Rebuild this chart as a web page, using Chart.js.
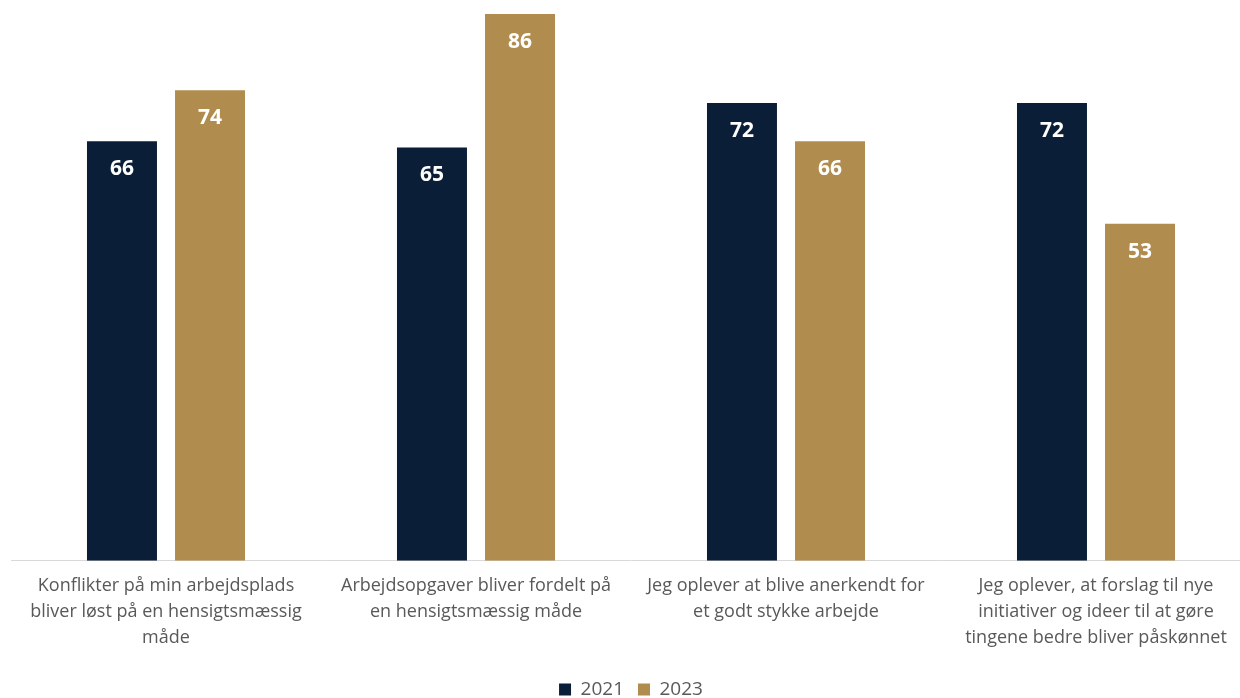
<!DOCTYPE html>
<html>
<head>
<meta charset="utf-8">
<script src="https://cdn.jsdelivr.net/npm/chart.js@4"></script>
<style>
  html, body { margin: 0; padding: 0; background: #ffffff; overflow: hidden; }
  #wrap { width: 1262px; height: 698px; position: relative; }
</style>
</head>
<body>
<div id="wrap"><canvas id="chart"></canvas></div>
<script>
var categories = [
  ["Konflikter på min arbejdsplads", "bliver løst på en hensigtsmæssig", "måde"],
  ["Arbejdsopgaver bliver fordelt på", "en hensigtsmæssig måde"],
  ["Jeg oplever at blive anerkendt for", "et godt stykke arbejde"],
  ["Jeg oplever, at forslag til nye", "initiativer og ideer til at gøre", "tingene bedre bliver påskønnet"]
];
var values2021 = [66, 65, 72, 72];
var values2023 = [74, 86, 66, 53];
var seriesNames = ["2021", "2023"];

var valueLabels = {
  id: "valueLabels",
  afterDatasetsDraw: function (chart) {
    var ctx = chart.ctx;
    ctx.save();
    ctx.fillStyle = "#ffffff";
    ctx.font = "bold 21px 'Open Sans', sans-serif";
    ctx.textAlign = "center";
    ctx.textBaseline = "middle";
    chart.data.datasets.forEach(function (ds, i) {
      chart.getDatasetMeta(i).data.forEach(function (bar, j) {
        ctx.fillText(ds.data[j], bar.x, bar.y + 28);
      });
    });
    ctx.restore();
  }
};

// pull the legend a bit closer to the bottom edge
var legendShift = {
  id: "legendShift",
  beforeInit: function (chart) {
    var fit = chart.legend.fit;
    chart.legend.fit = function () {
      fit.call(this);
      this.height -= 11;
    };
  }
};

var ctx = document.getElementById("chart").getContext("2d");
var chart = new Chart(ctx, {
  type: "bar",
  data: {
    labels: categories,
    datasets: [
      {
        label: seriesNames[0],
        data: values2021,
        backgroundColor: "#0b1e37",
        categoryPercentage: 0.568,
        barPercentage: 0.795
      },
      {
        label: seriesNames[1],
        data: values2023,
        backgroundColor: "#b08d4e",
        categoryPercentage: 0.568,
        barPercentage: 0.795
      }
    ]
  },
  options: {
    responsive: true,
    maintainAspectRatio: false,
    animation: false,
    layout: { padding: { top: 14, left: 11, right: 11, bottom: 0 } },
    scales: {
      x: {
        grid: { display: false, drawTicks: false },
        border: { display: true, color: "#d9d9d9", width: 1 },
        afterFit: function (scale) {
          scale.height += 3;
        },
        ticks: {
          color: "#595959",
          padding: 12,
          maxRotation: 0,
          autoSkip: false,
          font: { family: "'Open Sans', sans-serif", size: 18, lineHeight: 1.45 }
        }
      },
      y: {
        display: false,
        min: 0,
        max: 86
      }
    },
    plugins: {
      legend: {
        position: "bottom",
        labels: {
          color: "#595959",
          boxWidth: 12,
          boxHeight: 12,
          padding: 14,
          font: { family: "'Open Sans', sans-serif", size: 19 }
        }
      },
      tooltip: { enabled: false }
    }
  },
  plugins: [valueLabels, legendShift]
});
</script>
</body>
</html>
